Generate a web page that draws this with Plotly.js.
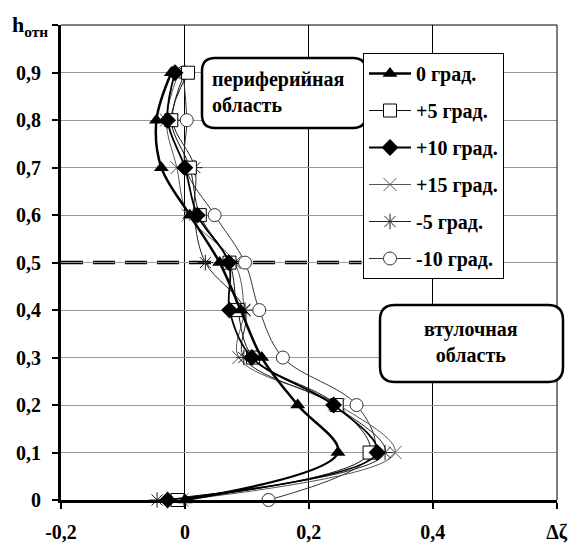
<!DOCTYPE html>
<html><head><meta charset="utf-8">
<script src="https://cdn.plot.ly/plotly-3.0.1.min.js"></script>
<style>body{margin:0;background:#fff}#chart{width:568px;height:548px}</style>
</head><body><div id="chart"></div>
<script>
const hValues = [0, 0.1, 0.2, 0.3, 0.4, 0.5, 0.6, 0.7, 0.8, 0.9];
const seriesNames = ["0 град.", "+5 град.", "+10 град.", "+15 град.", "-5 град.", "-10 град."];
const dz0   = [0.000, 0.247, 0.182, 0.124, 0.090, 0.056, 0.008, -0.038, -0.046, -0.022];
const dzP5  = [-0.012, 0.298, 0.245, 0.110, 0.085, 0.072, 0.024, 0.008, -0.022, 0.005];
const dzP10 = [-0.028, 0.310, 0.240, 0.108, 0.072, 0.071, 0.020, 0.000, -0.028, -0.016];
const dzP15 = [-0.005, 0.339, 0.248, 0.087, 0.095, 0.080, 0.005, -0.013, -0.030, -0.010];
const dzM5  = [-0.045, 0.323, 0.240, 0.095, 0.097, 0.033, 0.015, 0.016, -0.020, 0.000];
const dzM10 = [0.135, 0.305, 0.277, 0.158, 0.120, 0.097, 0.048, 0.001, 0.003, -0.003];
const xTickVals = [-0.2, 0, 0.2, 0.4, 0.6];
const xTickText = ["-0,2", "0", "0,2", "0,4", "Δζ"];
const yTickVals = [0, 0.1, 0.2, 0.3, 0.4, 0.5, 0.6, 0.7, 0.8, 0.9, 1.0];
const yTickText = ["0", "0,1", "0,2", "0,3", "0,4", "0,5", "0,6", "0,7", "0,8", "0,9", ""];
const yAxisLabel = "h<sub>отн</sub>";
const boundaryH = 0.5;

const FONT = "Liberation Serif, Times New Roman, serif";
const W = 568, H = 548, L = 61, R = 11, T = 25, B = 48;
const pw = W - L - R, ph = H - T - B;
const px = v => (v - L) / pw;
const py = v => (H - B - v) / ph;
function rrect(x0, y0, x1, y1, r) {
  const X = px, Y = py;
  return `M${X(x0 + r)},${Y(y0)} L${X(x1 - r)},${Y(y0)} Q${X(x1)},${Y(y0)} ${X(x1)},${Y(y0 + r)} ` +
    `L${X(x1)},${Y(y1 - r)} Q${X(x1)},${Y(y1)} ${X(x1 - r)},${Y(y1)} L${X(x0 + r)},${Y(y1)} ` +
    `Q${X(x0)},${Y(y1)} ${X(x0)},${Y(y1 - r)} L${X(x0)},${Y(y0 + r)} Q${X(x0)},${Y(y0)} ${X(x0 + r)},${Y(y0)} Z`;
}

const styles = [
  {line: {color: "#000", width: 2.5}, marker: {symbol: "triangle-up", size: 13, color: "#000"}},
  {line: {color: "#111", width: 1}, marker: {symbol: "square", size: 13, color: "#fff", line: {color: "#000", width: 1}}},
  {line: {color: "#000", width: 1.8}, marker: {symbol: "diamond", size: 13, color: "#000"}},
  {line: {color: "#555", width: 1}, marker: {symbol: "x-thin-open", size: 13, color: "#555", line: {color: "#555", width: 1}}},
  {line: {color: "#222", width: 1}, marker: {symbol: "asterisk-open", size: 13, color: "#222", line: {color: "#222", width: 1}}},
  {line: {color: "#333", width: 1}, marker: {symbol: "circle", size: 13, color: "#fff", line: {color: "#333", width: 1}}}
];
const allX = [dz0, dzP5, dzP10, dzP15, dzM5, dzM10];
const traces = allX.map((xs, i) => ({
  x: xs, y: hValues, name: seriesNames[i], type: "scatter", mode: "lines+markers",
  line: Object.assign({shape: "spline", smoothing: 1}, styles[i].line),
  marker: styles[i].marker, legendgroup: "g" + i, cliponaxis: false
}));
const order = [5, 3, 4, 1, 2, 0];
const data = order.map(i => traces[i]);
data.forEach(t => { t.legendrank = seriesNames.indexOf(t.name) + 1; });

const layout = {
  width: W, height: H, margin: {l: L, r: R, t: T, b: B},
  paper_bgcolor: "#fff", plot_bgcolor: "#fff",
  font: {family: FONT, size: 20, color: "#000", weight: "bold"},
  separators: ",.",
  xaxis: {range: [-0.2, 0.6005], tickvals: xTickVals, ticktext: xTickText, showgrid: true,
    gridcolor: "#000", gridwidth: 1, zeroline: false, showline: true, linecolor: "#000", linewidth: 3,
    ticks: "outside", ticklen: 6, tickwidth: 2, tickcolor: "#000", ticklabelstandoff: 6,
    tickfont: {family: FONT, size: 20, weight: "bold"}},
  yaxis: {range: [0, 1.0005], tickvals: yTickVals, ticktext: yTickText, showgrid: true,
    gridcolor: "#999", gridwidth: 1, zeroline: false, showline: true, linecolor: "#000", linewidth: 3,
    ticks: "outside", ticklen: 6, tickwidth: 2, tickcolor: "#000", ticklabelstandoff: 7,
    tickfont: {family: FONT, size: 20, weight: "bold"}},
  showlegend: true,
  legend: {x: px(363), y: py(53), xanchor: "left", yanchor: "top", bgcolor: "#fff",
    bordercolor: "#000", borderwidth: 1, tracegroupgap: 8, traceorder: "grouped", itemwidth: 42,
    font: {family: FONT, size: 20, weight: "bold", color: "#000"}},
  shapes: [
    {type: "line", xref: "x", yref: "y", x0: -0.2, x1: 0.285, y0: boundaryH, y1: boundaryH,
      line: {color: "#000", width: 3.5, dash: "22px,10px"}, layer: "below"},
    {type: "line", xref: "paper", yref: "paper", x0: 0, x1: 1, y0: 1, y1: 1, line: {color: "#000", width: 1}},
    {type: "line", xref: "paper", yref: "paper", x0: 1, x1: 1, y0: 0, y1: 1, line: {color: "#000", width: 1}},
    {type: "path", xref: "paper", yref: "paper", path: rrect(202, 58, 366, 128, 13),
      fillcolor: "#fff", line: {color: "#000", width: 2.5}, layer: "above"},
    {type: "path", xref: "paper", yref: "paper", path: rrect(380, 305, 563, 382, 15),
      fillcolor: "#fff", line: {color: "#000", width: 2.5}, layer: "above"}
  ],
  annotations: [
    {xref: "paper", yref: "paper", x: px(10), y: py(26), xanchor: "left", yanchor: "middle",
      showarrow: false, text: yAxisLabel, font: {family: FONT, size: 22, weight: "bold"}},
    {xref: "paper", yref: "paper", x: px(210), y: py(92), xanchor: "left", yanchor: "middle", align: "left",
      showarrow: false, text: "периферийная<br>область", font: {family: FONT, size: 20, weight: "bold"}},
    {xref: "paper", yref: "paper", x: px(471), y: py(342), xanchor: "center", yanchor: "middle", align: "center",
      showarrow: false, text: "втулочная<br>область", font: {family: FONT, size: 20, weight: "bold"}}
  ]
};
Plotly.newPlot("chart", data, layout, {staticPlot: true});
</script></body></html>
